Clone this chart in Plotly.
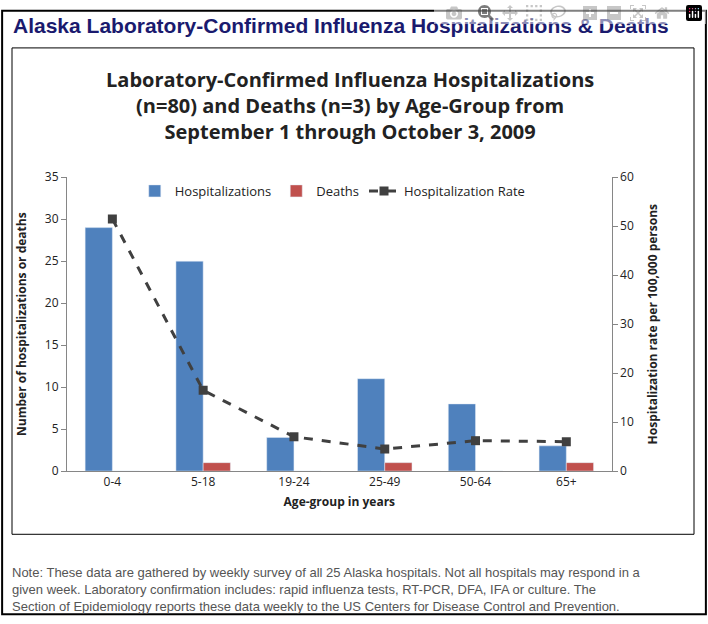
import plotly.graph_objects as go

age_groups = ["0-4", "5-18", "19-24", "25-49", "50-64", "65+"]
hospitalizations = [29, 25, 4, 11, 8, 3]
deaths = [0, 1, 0, 1, 0, 1]
hosp_rate = [51.5, 16.5, 7.0, 4.5, 6.2, 6.0]

fig = go.Figure()
fig.add_trace(go.Bar(x=age_groups, y=hospitalizations, name="Hospitalizations",
                     marker_color="#4F81BD"))
fig.add_trace(go.Bar(x=age_groups, y=deaths, name="Deaths", marker_color="#C0504D"))
fig.add_trace(go.Scatter(x=age_groups, y=hosp_rate, name="Hospitalization Rate", yaxis="y2",
                         mode="lines+markers",
                         line=dict(color="#404040", width=3, dash="dash"),
                         marker=dict(symbol="square", size=9, color="#404040")))

font_c = "Open Sans, DejaVu Sans, sans-serif"
note = ("Note: These data are gathered by weekly survey of all 25 Alaska hospitals. Not all hospitals may respond in a<br>"
        "given week. Laboratory confirmation includes: rapid influenza tests, RT-PCR, DFA, IFA or culture. The<br>"
        "Section of Epidemiology reports these data weekly to the US Centers for Disease Control and Prevention.")

fig.update_layout(
    width=708, height=624, margin=dict(l=0, r=0, t=0, b=0),
    paper_bgcolor="white", plot_bgcolor="white",
    barmode="group", bargap=0.4, bargroupgap=0,
    xaxis=dict(domain=[0.0946, 0.864], showline=True, linecolor="#868686",
               tickfont=dict(family=font_c, size=12, color="#222"),
               title=dict(text="<b>Age-group in years</b>", font=dict(family=font_c, size=12, color="#222"),
                          standoff=8)),
    yaxis=dict(domain=[0.2388, 0.7228], range=[0, 35], dtick=5, showline=True, linecolor="#868686",
               ticks="outside", tickcolor="#868686", showgrid=False, zeroline=False,
               tickfont=dict(family=font_c, size=12, color="#222"),
               title=dict(text="<b>Number of hospitalizations or deaths</b>",
                          font=dict(family=font_c, size=12, color="#222"))),
    yaxis2=dict(overlaying="y", side="right", range=[0, 60], dtick=10, showline=True,
                linecolor="#868686", ticks="outside", tickcolor="#868686", showgrid=False,
                zeroline=False, anchor="x",
                tickfont=dict(family=font_c, size=12, color="#222"),
                title=dict(text="<b>Hospitalization rate per 100,000 persons</b>",
                           font=dict(family=font_c, size=12, color="#222"))),
    legend=dict(orientation="h", x=0.47, xanchor="center", y=0.725, yanchor="top",
                font=dict(family=font_c, size=13, color="#222"), bgcolor="rgba(0,0,0,0)"),
    showlegend=True,
)

fig.add_annotation(text="<b>Alaska Laboratory-Confirmed Influenza Hospitalizations & Deaths</b>",
                   xref="paper", yref="paper", x=0.015, y=0.995, xanchor="left", yanchor="top",
                   showarrow=False, font=dict(family="Liberation Sans, Arial", size=21, color="#1a1a6e"))
fig.add_annotation(text="<b>Laboratory-Confirmed Influenza Hospitalizations<br>(n=80) and Deaths (n=3) by Age-Group from<br>September 1 through October 3, 2009</b>",
                   xref="paper", yref="paper", x=0.495, y=0.91, xanchor="center", yanchor="top",
                   showarrow=False, font=dict(family=font_c, size=20, color="#222"))
fig.add_annotation(text=note, xref="paper", yref="paper", x=0.014, y=0.088, xanchor="left",
                   yanchor="top", align="left", showarrow=False,
                   font=dict(family="Liberation Sans, Arial", size=13, color="#555"))

fig.add_shape(type="rect", xref="paper", yref="paper", x0=0.003, x1=0.997, y0=0.003, y1=0.997,
              line=dict(color="black", width=2))
fig.add_shape(type="rect", xref="paper", yref="paper", x0=12/708, x1=694/708,
              y0=1-540/624, y1=1-40/624, line=dict(color="black", width=1))

fig.write_html("out.html", post_script="document.body.style.margin='0';document.body.style.overflow='hidden';")
